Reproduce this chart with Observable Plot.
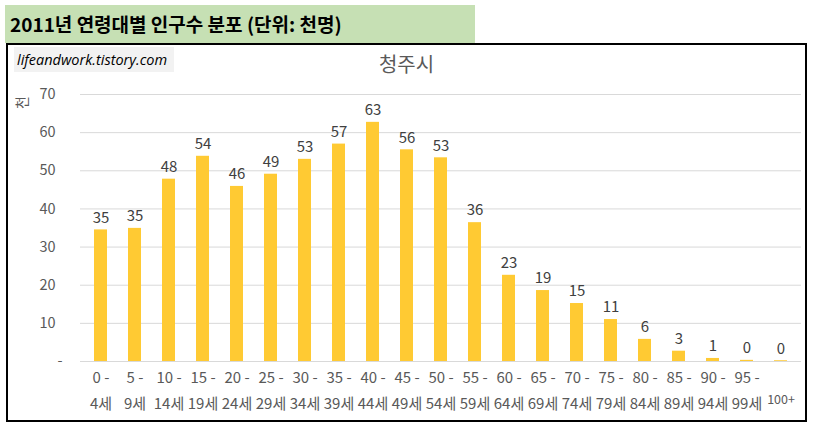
<!DOCTYPE html>
<html>
<head>
<meta charset="utf-8">
<script src="https://cdn.jsdelivr.net/npm/d3@7"></script>
<script src="https://cdn.jsdelivr.net/npm/@observablehq/plot@0.6"></script>
<style>
  html, body { margin: 0; padding: 0; background: #fff; width: 816px; height: 431px; overflow: hidden; }
  body { position: relative; font-family: "Noto Sans CJK KR", "Noto Sans", sans-serif; }
  #title { position: absolute; left: 5px; top: 5px; width: 470px; height: 38px; background: #C6E0B4;
           font-weight: bold; font-size: 19px; line-height: 38px; color: #000; padding-left: 5px; box-sizing: border-box; }
  #frame { position: absolute; left: 6px; top: 43px; width: 801px; height: 379px; border: 2px solid #000; box-sizing: border-box; }
  #frame svg { position: absolute; left: 0; top: 0; }
  #wm { position: absolute; left: 6px; top: 2px; width: 160px; height: 25px; background: #f2f2f2;
        font-family: "Open Sans", "Noto Sans", sans-serif; font-style: italic; font-size: 14.5px; line-height: 25px; padding-left: 3px; box-sizing: border-box; color: #000; }
  #ctitle { position: absolute; left: 0; width: 100%; top: 4px; text-align: center; font-size: 20px; color: #595959; }
</style>
</head>
<body>
<div id="title">2011년 연령대별 인구수 분포 (단위: 천명)</div>
<div id="frame"><div id="wm">lifeandwork.tistory.com</div><div id="ctitle">청주시</div></div>
<script>
const categories = ["0-4","5-9","10-14","15-19","20-24","25-29","30-34","35-39","40-44","45-49","50-54","55-59","60-64","65-69","70-74","75-79","80-84","85-89","90-94","95-99","100+"];
const values = [34.5, 34.9, 47.8, 53.8, 45.9, 49.1, 53.0, 57.0, 62.7, 55.5, 53.4, 36.4, 22.6, 18.6, 15.2, 11.0, 5.8, 2.7, 0.8, 0.3, 0.2];
const valueLabels = ["35","35","48","54","46","49","53","57","63","56","53","36","23","19","15","11","6","3","1","0","0"];
const labelLine1 = ["0 -","5 -","10 -","15 -","20 -","25 -","30 -","35 -","40 -","45 -","50 -","55 -","60 -","65 -","70 -","75 -","80 -","85 -","90 -","95 -",""];
const labelLine2 = ["4세","9세","14세","19세","24세","29세","34세","39세","44세","49세","54세","59세","64세","69세","74세","79세","84세","89세","94세","99세",""];
const singleLabel = ["","","","","","","","","","","","","","","","","","","","","100+"];
const yTicks = [10, 20, 30, 40, 50, 60, 70];
const yAxisTitle = "천";

const rows = categories.map((c, i) => ({cat: c, v: values[i], lab: valueLabels[i], l1: labelLine1[i], l2: labelLine2[i], s: singleLabel[i]}));

const chart = Plot.plot({
  width: 797,
  height: 375,
  marginLeft: 72,
  marginRight: 4,
  marginTop: 49,
  marginBottom: 59,
  style: {fontFamily: "'Noto Sans CJK KR', 'Noto Sans', sans-serif", background: "transparent"},
  x: {domain: categories, paddingInner: 0.62, paddingOuter: 0.31, axis: null},
  y: {domain: [0, 70], axis: null},
  marks: [
    Plot.gridY([0, ...yTicks], {stroke: "#d9d9d9", strokeOpacity: 1, strokeWidth: 1}),
    Plot.axisY(yTicks, {tickSize: 0, tickPadding: 25, fontSize: 14.5, fill: "#595959", label: null}),
    Plot.axisY([0], {tickSize: 0, tickPadding: 18, fontSize: 14.5, fill: "#595959", label: null, tickFormat: () => "-"}),
    Plot.text([yAxisTitle], {frameAnchor: "top-left", textAnchor: "middle", lineAnchor: "middle", dx: -58, dy: 8, rotate: -90, fontSize: 14, fill: "#595959"}),
    Plot.barY(rows, {x: "cat", y: "v", fill: "#FFCA33"}),
    Plot.text(rows, {x: "cat", y: "v", text: "lab", dy: -12, fontSize: 15, fill: "#404040"}),
    Plot.text(rows, {x: "cat", text: "l1", frameAnchor: "bottom", dy: 21, fontSize: 15, fill: "#595959"}),
    Plot.text(rows, {x: "cat", text: "l2", frameAnchor: "bottom", dy: 47, fontSize: 15, fill: "#595959"}),
    Plot.text(rows, {x: "cat", text: "s", frameAnchor: "bottom", dy: 42, fontSize: 12.5, fill: "#595959"})
  ]
});
document.getElementById("frame").appendChild(chart);
</script>
</body>
</html>
